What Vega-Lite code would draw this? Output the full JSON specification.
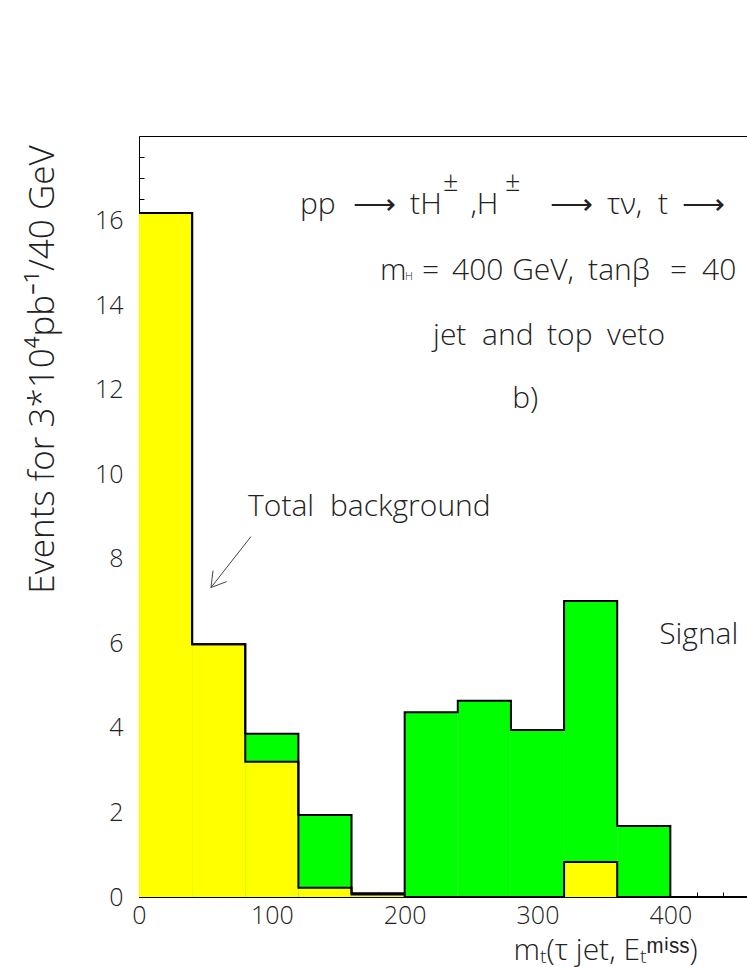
{
  "$schema": "https://vega.github.io/schema/vega-lite/v6.json",
  "width": 797,
  "height": 761,
  "autosize": "none",
  "padding": {"left": 139, "top": 136, "right": 0, "bottom": 70},
  "background": "white",
  "config": {
    "view": {"stroke": "black", "strokeWidth": 1},
    "font": "'Open Sans', 'DejaVu Sans', sans-serif",
    "axis": {"grid": false, "zindex": 2, "domainColor": "black", "tickColor": "black", "labelColor": "#222", "titleColor": "#222", "labelFont": "'Open Sans', 'DejaVu Sans', sans-serif", "titleFont": "'Open Sans', 'DejaVu Sans', sans-serif", "labelFontWeight": 300, "titleFontWeight": 300}
  },
  "datasets": {
    "bins": [
      {"lo": 0, "hi": 40, "total": 16.18, "bkg": 16.18},
      {"lo": 40, "hi": 80, "total": 5.98, "bkg": 5.98},
      {"lo": 80, "hi": 120, "total": 3.86, "bkg": 3.2},
      {"lo": 120, "hi": 160, "total": 1.94, "bkg": 0.22},
      {"lo": 160, "hi": 200, "total": 0.09, "bkg": 0.06},
      {"lo": 200, "hi": 240, "total": 4.37, "bkg": 0},
      {"lo": 240, "hi": 280, "total": 4.64, "bkg": 0},
      {"lo": 280, "hi": 320, "total": 3.95, "bkg": 0},
      {"lo": 320, "hi": 360, "total": 7.0, "bkg": 0.83},
      {"lo": 360, "hi": 400, "total": 1.68, "bkg": 0},
      {"lo": 400, "hi": 440, "total": 0, "bkg": 0},
      {"lo": 440, "hi": 480, "total": 0, "bkg": 0},
      {"lo": 480, "hi": 520, "total": 0, "bkg": 0},
      {"lo": 520, "hi": 560, "total": 0, "bkg": 0},
      {"lo": 560, "hi": 600, "total": 0, "bkg": 0}
    ],
    "labels": [
      {"x": 121.2, "y": 16.15, "text": "pp", "size": 30},
      {"x": 161.1, "y": 16.15, "text": "⟶", "size": 30},
      {"x": 204.1, "y": 16.15, "text": "tH", "size": 30},
      {"x": 228.9, "y": 16.7, "text": "±", "size": 27},
      {"x": 249.5, "y": 16.15, "text": ",H", "size": 30},
      {"x": 275.5, "y": 16.7, "text": "±", "size": 27},
      {"x": 309.5, "y": 16.15, "text": "⟶", "size": 30},
      {"x": 352.4, "y": 16.15, "text": "τν,", "size": 30},
      {"x": 390.8, "y": 16.15, "text": "t", "size": 30},
      {"x": 408.9, "y": 16.15, "text": "⟶", "size": 30},
      {"x": 181.5, "y": 14.59, "text": "m", "size": 30},
      {"x": 200.3, "y": 14.59, "text": "H", "size": 11},
      {"x": 213.1, "y": 14.59, "text": "=", "size": 30},
      {"x": 235.7, "y": 14.59, "text": "400", "size": 30},
      {"x": 280.9, "y": 14.59, "text": "GeV,", "size": 30},
      {"x": 338.1, "y": 14.59, "text": "tanβ", "size": 30},
      {"x": 399.8, "y": 14.59, "text": "=", "size": 30},
      {"x": 423.9, "y": 14.59, "text": "40", "size": 30},
      {"x": 221.4, "y": 13.06, "text": "jet", "size": 30},
      {"x": 258.3, "y": 13.06, "text": "and", "size": 30},
      {"x": 307.2, "y": 13.06, "text": "top", "size": 30},
      {"x": 352.4, "y": 13.06, "text": "veto", "size": 30},
      {"x": 280.9, "y": 11.56, "text": "b)", "size": 30},
      {"x": 82.1, "y": 9.02, "text": "Total", "size": 30},
      {"x": 143.8, "y": 9.02, "text": "background", "size": 30},
      {"x": 391.6, "y": 5.99, "text": "Signal", "size": 30}
    ],
    "arrow": [
      {"x": 84.3, "y": 8.525, "x2": 54.2, "y2": 7.32},
      {"x": 54.2, "y": 7.32, "x2": 66.0, "y2": 7.46},
      {"x": 54.2, "y": 7.32, "x2": 55.7, "y2": 7.72}
    ]
  },
  "resolve": {"axis": {"x": "independent", "y": "independent"}},
  "layer": [
    {
      "data": {"name": "bins"},
      "mark": {"type": "rect", "fill": "#00ff00", "strokeWidth": 0},
      "encoding": {
        "x": {"field": "lo", "type": "quantitative", "scale": {"domain": [0, 600], "nice": false},
          "axis": {"orient": "bottom", "values": [0, 100, 200, 300, 400], "tickSize": -10, "labelPadding": 16, "labelFontSize": 25, "labelFlush": false,
            "title": "mₜ(τ jet, Eₜᵐⁱˢˢ)", "titleFontSize": 30, "titleX": 374, "titleY": 62, "titleAlign": "left", "titleBaseline": "alphabetic", "titleAnchor": null}},
        "x2": {"field": "hi"},
        "y": {"field": "total", "type": "quantitative", "scale": {"domain": [0, 18], "nice": false},
          "axis": {"orient": "left", "values": [0, 2, 4, 6, 8, 10, 12, 14, 16], "tickSize": -10, "labelPadding": 26, "labelFontSize": 25,
            "title": "Events for 3*10⁴pb⁻¹/40 GeV", "titleFontSize": 35, "titleX": -86, "titleY": 233, "titleAlign": "center", "titleBaseline": "alphabetic", "titleAngle": -90}},
        "y2": {"datum": 0}
      }
    },
    {
      "data": {"name": "bins"},
      "mark": {"type": "rect", "fill": "#ffff00", "strokeWidth": 0},
      "encoding": {
        "x": {"field": "lo", "type": "quantitative", "axis": null},
        "x2": {"field": "hi"},
        "y": {"field": "bkg", "type": "quantitative", "axis": null},
        "y2": {"datum": 0}
      }
    },
    {
      "data": {"name": "bins"},
      "mark": {"type": "line", "interpolate": "step-after", "color": "black", "strokeWidth": 2},
      "encoding": {
        "x": {"field": "lo", "type": "quantitative",
          "axis": {"orient": "bottom", "values": [20, 40, 60, 80, 120, 140, 160, 180, 220, 240, 260, 280, 320, 340, 360, 380, 420, 440, 460, 480, 500, 520, 540, 560, 580], "tickSize": -5, "labels": false, "domain": false, "title": null}},
        "y": {"field": "total", "type": "quantitative",
          "axis": {"orient": "left", "values": [0.5, 1, 1.5, 2.5, 3, 3.5, 4.5, 5, 5.5, 6.5, 7, 7.5, 8.5, 9, 9.5, 10.5, 11, 11.5, 12.5, 13, 13.5, 14.5, 15, 15.5, 16.5, 17, 17.5], "tickSize": -5, "labels": false, "domain": false, "title": null}}
      }
    },
    {
      "data": {"name": "bins"},
      "mark": {"type": "line", "interpolate": "step-after", "color": "black", "strokeWidth": 2},
      "encoding": {
        "x": {"field": "lo", "type": "quantitative", "axis": null},
        "y": {"field": "bkg", "type": "quantitative", "axis": null}
      }
    },
    {
      "data": {"name": "arrow"},
      "mark": {"type": "rule", "color": "#444", "strokeWidth": 1},
      "encoding": {
        "x": {"field": "x", "type": "quantitative", "axis": null},
        "y": {"field": "y", "type": "quantitative", "axis": null},
        "x2": {"field": "x2"},
        "y2": {"field": "y2"}
      }
    },
    {
      "data": {"name": "labels"},
      "mark": {"type": "text", "align": "left", "baseline": "alphabetic", "color": "#222", "fontWeight": 300},
      "encoding": {
        "x": {"field": "x", "type": "quantitative", "axis": null},
        "y": {"field": "y", "type": "quantitative", "axis": null},
        "text": {"field": "text"},
        "size": {"field": "size", "type": "quantitative", "scale": null}
      }
    }
  ]
}
